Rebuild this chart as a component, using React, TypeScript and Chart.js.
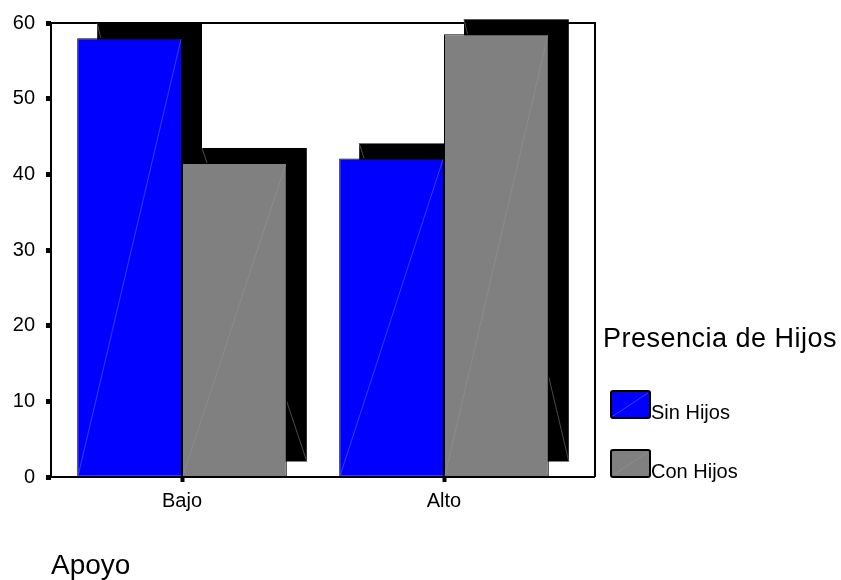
import { useEffect, useRef } from "react";
import { Chart, registerables } from "chart.js";

Chart.register(...registerables);

// Data
const categories = ["Bajo", "Alto"];
const seriesNames = ["Sin Hijos", "Con Hijos"];
const sinHijos = [58.0, 42.1];
const conHijos = [41.5, 58.5];
const yTickValues = [0, 10, 20, 30, 40, 50, 60];
const xAxisTitle = "Apoyo";
const legendTitle = "Presencia de Hijos";

// Styling
const seriesColors = ["#0000ff", "#808080"];
const seamColors = ["rgba(110,110,255,0.9)", "rgba(150,150,150,0.9)"];
const FONT = "'Liberation Sans', Arial, sans-serif";
const DEPTH_X = 20;
const DEPTH_Y = 15;

type BarBox = { l: number; r: number; t: number; b: number };

function barBoxes(chart: Chart): BarBox[][] {
  return chart.data.datasets.map((_, i) =>
    chart.getDatasetMeta(i).data.map((el: any) => {
      const p = el.getProps(["x", "y", "base", "width"], true);
      return { l: p.x - p.width / 2, r: p.x + p.width / 2, t: p.y, b: p.base };
    })
  );
}

// Extruded look: black back faces behind each bar, a frame around the plot,
// and a custom legend on the right.
const depthPlugin = {
  id: "depthBars",
  beforeDatasetsDraw(chart: Chart) {
    const { ctx, chartArea } = chart;
    const { left, right, top, bottom } = chartArea;
    ctx.save();
    // top and right frame
    ctx.strokeStyle = "#000";
    ctx.lineWidth = 2;
    ctx.beginPath();
    ctx.moveTo(left, top);
    ctx.lineTo(right + DEPTH_X, top);
    ctx.lineTo(right + DEPTH_X, bottom);
    ctx.stroke();

    // back faces
    const boxes = barBoxes(chart);
    boxes.forEach((list) =>
      list.forEach((bx) => {
        ctx.fillStyle = "#000";
        ctx.fillRect(bx.l + DEPTH_X, bx.t - DEPTH_Y, bx.r - bx.l, bx.b - bx.t);
      })
    );
    // faint seams on the back faces
    ctx.strokeStyle = "#4a4a4a";
    ctx.lineWidth = 1;
    boxes.forEach((list) =>
      list.forEach((bx) => {
        const slope = (bx.b - bx.t) / (bx.r - bx.l);
        ctx.beginPath();
        ctx.moveTo(bx.r + DEPTH_X, bx.b - DEPTH_Y);
        ctx.lineTo(bx.r, bx.b - DEPTH_Y - DEPTH_X * slope);
        ctx.stroke();
        ctx.beginPath();
        ctx.moveTo(bx.l + DEPTH_X, bx.t - DEPTH_Y);
        ctx.lineTo(bx.l + DEPTH_X + DEPTH_Y / slope, bx.t);
        ctx.stroke();
      })
    );
    ctx.restore();
  },
  afterDatasetsDraw(chart: Chart) {
    const { ctx, chartArea } = chart;
    const { left, right, top, bottom } = chartArea;
    ctx.save();
    // diagonal seams across the bar faces
    const boxes = barBoxes(chart);
    ctx.lineWidth = 0.6;
    boxes.forEach((list, i) =>
      list.forEach((bx) => {
        ctx.strokeStyle = seamColors[i];
        ctx.beginPath();
        ctx.moveTo(bx.l + 1, bx.b - 1);
        ctx.lineTo(bx.r - 1, bx.t + 1);
        ctx.stroke();
      })
    );
    // left and bottom axis lines
    ctx.strokeStyle = "#000";
    ctx.lineWidth = 2;
    ctx.beginPath();
    ctx.moveTo(left, top);
    ctx.lineTo(left, bottom);
    ctx.lineTo(right + DEPTH_X, bottom);
    ctx.stroke();

    // legend
    ctx.fillStyle = "#000";
    ctx.textBaseline = "alphabetic";
    ctx.textAlign = "left";
    ctx.font = `27px ${FONT}`;
    (ctx as any).letterSpacing = "0.5px";
    ctx.fillText(legendTitle, 603, 347);
    (ctx as any).letterSpacing = "0px";
    chart.data.datasets.forEach((ds: any, i: number) => {
      const bx = 611;
      const by = 391 + i * 59;
      const bw = 39;
      const bh = 27;
      ctx.fillStyle = ds.backgroundColor;
      ctx.beginPath();
      (ctx as any).roundRect(bx, by, bw, bh, 2);
      ctx.fill();
      ctx.strokeStyle = seamColors[i];
      ctx.lineWidth = 0.6;
      ctx.beginPath();
      ctx.moveTo(bx + 2, by + bh - 2);
      ctx.lineTo(bx + bw - 2, by + 2);
      ctx.stroke();
      ctx.strokeStyle = "#000";
      ctx.lineWidth = 2;
      ctx.beginPath();
      (ctx as any).roundRect(bx, by, bw, bh, 2);
      ctx.stroke();
      ctx.fillStyle = "#000";
      ctx.font = `20px ${FONT}`;
      ctx.fillText(ds.label, bx + bw + 1, by + bh + 1);
    });
    ctx.restore();
  },
};

export default function App() {
  const canvasRef = useRef<HTMLCanvasElement | null>(null);

  useEffect(() => {
    const canvas = canvasRef.current;
    if (!canvas) return;
    const chart = new Chart(canvas, {
      type: "bar",
      data: {
        labels: categories,
        datasets: [
          {
            label: seriesNames[0],
            data: sinHijos,
            backgroundColor: seriesColors[0],
            borderColor: "#000",
            borderWidth: 1,
            borderSkipped: false,
          },
          {
            label: seriesNames[1],
            data: conHijos,
            backgroundColor: seriesColors[1],
            borderColor: "#000",
            borderWidth: 1,
            borderSkipped: false,
          },
        ],
      },
      options: {
        responsive: false,
        animation: false,
        events: [],
        devicePixelRatio: 1,
        layout: { padding: { left: 0, right: 266, top: 20, bottom: 0 } },
        datasets: {
          bar: { categoryPercentage: 0.8, barPercentage: 1.0 },
        },
        plugins: {
          legend: { display: false },
          tooltip: { enabled: false },
          title: { display: false },
        },
        scales: {
          x: {
            type: "category",
            offset: true,
            border: { display: false },
            grid: {
              offset: false,
              drawOnChartArea: false,
              drawTicks: true,
              tickLength: 5,
              tickWidth: 4,
              tickColor: "#000",
            },
            ticks: {
              color: "#000",
              padding: 7,
              maxRotation: 0,
              font: { family: FONT, size: 20 },
            },
            title: {
              display: true,
              text: xAxisTitle,
              align: "start",
              color: "#000",
              padding: { top: 0, bottom: 0 },
              font: { family: FONT, size: 28, lineHeight: 1 },
            },
            afterFit(scale: any) {
              scale.height = 103;
            },
          },
          y: {
            min: 0,
            max: 60,
            border: { display: false },
            afterBuildTicks(scale: any) {
              scale.ticks = yTickValues.map((v) => ({ value: v }));
            },
            grid: {
              drawOnChartArea: false,
              drawTicks: true,
              tickLength: 5,
              tickWidth: 5,
              tickColor: "#000",
            },
            ticks: {
              color: "#000",
              padding: 11,
              font: { family: FONT, size: 20 },
            },
            afterFit(scale: any) {
              scale.width = 51;
            },
          },
        },
      },
      plugins: [depthPlugin],
    });
    return () => chart.destroy();
  }, []);

  return (
    <div style={{ position: "absolute", left: 0, top: 0, width: 841, height: 580, background: "#fff" }}>
      <canvas ref={canvasRef} width={841} height={580} style={{ display: "block" }} />
    </div>
  );
}
